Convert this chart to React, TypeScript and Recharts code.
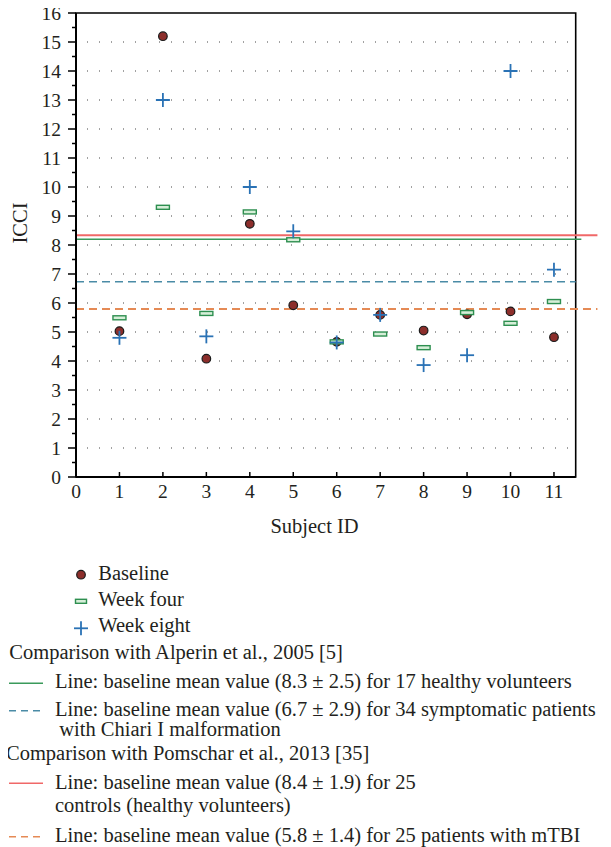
import React from 'react';
import { ScatterChart, Scatter, XAxis, YAxis, ReferenceLine, ReferenceArea } from 'recharts';

const subjects = [1, 2, 3, 4, 5, 6, 7, 8, 9, 10, 11];
const baseline = [5.03, 15.2, 4.08, 8.73, 5.92, 4.66, 5.59, 5.05, 5.61, 5.71, 4.82];
const weekFour = [5.49, 9.3, 5.64, 9.14, 8.18, 4.66, 4.93, 4.46, 5.67, 5.3, 6.05];
const weekEight = [4.8, 13.0, 4.85, 10.0, 8.47, 4.64, 5.59, 3.86, 4.2, 14.0, 7.15];

const xTicks = [0, 1, 2, 3, 4, 5, 6, 7, 8, 9, 10, 11];
const yTicks = [0, 0.5, 1, 1.5, 2, 2.5, 3, 3.5, 4, 4.5, 5, 5.5, 6, 6.5, 7, 7.5, 8, 8.5, 9, 9.5, 10, 10.5, 11, 11.5, 12, 12.5, 13, 13.5, 14, 14.5, 15, 15.5, 16];
const gridValues = [1, 2, 3, 4, 5, 6, 7, 8, 9, 10, 11, 12, 13, 14, 15];

// reference means (as drawn)
const alperinHealthy = 8.2;
const alperinChiari = 6.73;
const pomscharControls = 8.34;
const pomscharMTBI = 5.79;

const toPoints = (vals: number[]) => subjects.map((s, i) => ({ x: s, y: vals[i] }));
const baselineData = toPoints(baseline);
const weekFourData = toPoints(weekFour);
const weekEightData = toPoints(weekEight);

const FONT = "'Liberation Serif', 'DejaVu Serif', serif";
const TXT = '#231f20';
const tStyle = { fontFamily: FONT };

const CircleShape = (p: any) => (
  <circle cx={p.cx} cy={p.cy} r={4.3} fill="#8c2e2b" stroke="#1a1a1a" strokeWidth={1.2} />
);
const RectShape = (p: any) => (
  <rect x={p.cx - 6.5} y={p.cy - 2} width={13} height={4} fill="#d6eed8" stroke="#2e8f50" strokeWidth={1.4} />
);
const PlusShape = (p: any) => (
  <g stroke="#2a72b5" strokeWidth={1.8}>
    <line x1={p.cx - 7} x2={p.cx + 7} y1={p.cy} y2={p.cy} />
    <line x1={p.cx} x2={p.cx} y1={p.cy - 7} y2={p.cy + 7} />
  </g>
);

const YTick = (p: any) => {
  const v = p.payload.value;
  const major = Number.isInteger(v);
  return (
    <g>
      <line x1={p.x} x2={p.x - (major ? 8 : 4)} y1={p.y} y2={p.y} stroke="#000" strokeWidth={1.5} />
      {major && (
        <text x={p.x - 15} y={p.y} dy="0.34em" textAnchor="end" style={tStyle} fontSize={19.5} fill={TXT}>
          {v}
        </text>
      )}
    </g>
  );
};

const XTick = (p: any) => (
  <g>
    <line x1={p.x} x2={p.x} y1={p.y} y2={p.y - 5} stroke="#000" strokeWidth={1.5} />
    <text x={p.x} y={p.y + 21} textAnchor="middle" style={tStyle} fontSize={19.5} fill={TXT}>
      {p.payload.value}
    </text>
  </g>
);

export default function App() {
  return (
    <div style={{ position: 'relative', left: -8, top: -8, width: 611, height: 847 }}>
      <ScatterChart width={611} height={560} margin={{ top: 13, right: 35.3, bottom: 0, left: 0 }}>
        <XAxis
          type="number"
          dataKey="x"
          domain={[0, 11.5]}
          ticks={xTicks}
          interval={0}
          height={83}
          tickSize={0}
          tickMargin={0}
          tickLine={false}
          axisLine={{ stroke: '#000', strokeWidth: 2 }}
          tick={<XTick />}
          allowDataOverflow
        />
        <YAxis
          type="number"
          dataKey="y"
          domain={[0, 16]}
          ticks={yTicks}
          interval={0}
          width={76}
          tickSize={0}
          tickMargin={0}
          tickLine={false}
          axisLine={{ stroke: '#000', strokeWidth: 2 }}
          tick={<YTick />}
          allowDataOverflow
        />
        {gridValues.map((g) => (
          <ReferenceLine
            key={'g' + g}
            segment={[{ x: 0, y: g }, { x: 11.5, y: g }]}
            stroke="#444"
            strokeWidth={1}
            strokeDasharray="1 11"
            strokeDashoffset={-11}
            ifOverflow="visible"
          />
        ))}
        <ReferenceArea x1={0} x2={11.5} y1={0} y2={16} fill="none" fillOpacity={0} stroke="#000" strokeWidth={1.6} ifOverflow="visible" />
        <ReferenceLine segment={[{ x: 0, y: alperinChiari }, { x: 11.5, y: alperinChiari }]} stroke="#4a8ba6" strokeWidth={1.5} strokeDasharray="8 5" ifOverflow="visible" />
        <ReferenceLine segment={[{ x: 0, y: pomscharMTBI }, { x: 12, y: pomscharMTBI }]} stroke="#e58a55" strokeWidth={2} strokeDasharray="8 5" ifOverflow="visible" />
        <ReferenceLine segment={[{ x: 0, y: alperinHealthy }, { x: 11.63, y: alperinHealthy }]} stroke="#3a9a5b" strokeWidth={1.5} ifOverflow="visible" />
        <ReferenceLine segment={[{ x: 0, y: pomscharControls }, { x: 12, y: pomscharControls }]} stroke="#f06868" strokeWidth={2} ifOverflow="visible" />
        <Scatter name="Baseline" data={baselineData} shape={CircleShape} isAnimationActive={false} />
        <Scatter name="Week four" data={weekFourData} shape={RectShape} isAnimationActive={false} />
        <Scatter name="Week eight" data={weekEightData} shape={PlusShape} isAnimationActive={false} />
      </ScatterChart>
      <svg width={611} height={847} style={{ position: 'absolute', left: 0, top: 0, pointerEvents: 'none' }}>
        <g style={tStyle} fill={TXT} fontSize={20.5}>
          <text x={20} y={223} textAnchor="middle" dominantBaseline="central" transform="rotate(-90 20 223)">ICCI</text>
          <text x={314.5} y={533.3} textAnchor="middle">Subject ID</text>

          <circle cx={81} cy={574.7} r={4.3} fill="#8c2e2b" stroke="#1a1a1a" strokeWidth={1.2} />
          <text x={98.3} y={580}>Baseline</text>
          <rect x={75.5} y={599.3} width={11} height={4} fill="#d6eed8" stroke="#2e8f50" strokeWidth={1.4} />
          <text x={98.3} y={606}>Week four</text>
          <g stroke="#2a72b5" strokeWidth={1.8}>
            <line x1={74} x2={88} y1={628.3} y2={628.3} />
            <line x1={81} x2={81} y1={621.3} y2={635.3} />
          </g>
          <text x={98.3} y={632}>Week eight</text>
          <text x={9.3} y={659}>Comparison with Alperin et al., 2005 [5]</text>

          <line x1={9} x2={43} y1={683.3} y2={683.3} stroke="#3a9a5b" strokeWidth={1.5} />
          <text x={55} y={688}>Line: baseline mean value (8.3 ± 2.5) for 17 healthy volunteers</text>
          <line x1={9} x2={43} y1={710.7} y2={710.7} stroke="#4a8ba6" strokeWidth={1.5} strokeDasharray="7 5" />
          <text x={55} y={716}>Line: baseline mean value (6.7 ± 2.9) for 34 symptomatic patients</text>
          <text x={59.3} y={736}>with Chiari I malformation</text>
          <text x={6} y={760}>Comparison with Pomschar et al., 2013 [35]</text>

          <line x1={9} x2={43} y1={783.3} y2={783.3} stroke="#f06868" strokeWidth={1.5} />
          <text x={55} y={789}>Line: baseline mean value (8.4 ± 1.9) for 25</text>
          <text x={55} y={811.7}>controls (healthy volunteers)</text>
          <line x1={9} x2={43} y1={836.7} y2={836.7} stroke="#e58a55" strokeWidth={1.5} strokeDasharray="7 5" />
          <text x={55} y={841.7}>Line: baseline mean value (5.8 ± 1.4) for 25 patients with mTBI</text>
        </g>
      </svg>
    </div>
  );
}
